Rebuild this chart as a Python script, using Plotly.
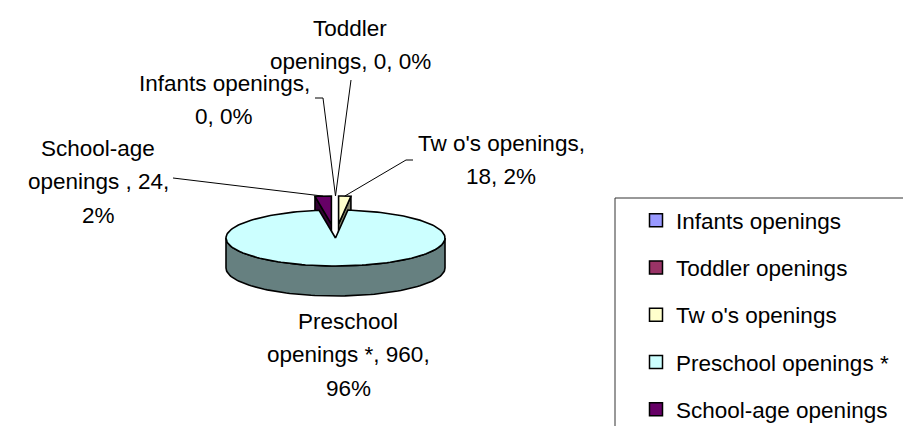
import textwrap
import numpy as np
import plotly.graph_objects as go

# ---------------- data ----------------
categories = ["Infants openings", "Toddler openings", "Tw o's openings",
              "Preschool openings *", "School-age openings "]
values = [0, 0, 18, 960, 24]
top_colors = ["#9999FF", "#993366", "#FFFFCC", "#CCFFFF", "#660066"]
side_colors = ["#4D4D80", "#4D1A33", "#808066", "#668080", "#330033"]
label_wrap = [17, 15, 16, 16, 14]
label_pos = [(216, 75), (342, 20), (493, 135), (340, 313), (90, 140)]
label_tick = [((307, 90), (315, 90)), ((343, 72), None), ((405, 152), (398, 152)),
              None, ((165, 170), None)]

# ---------------- style / geometry ----------------
W, H = 911, 426
CX, CY, RX, RY, DEPTH = 327.5, 230.0, 109.5, 28.0, 30.0
EXPLODE = 0.5
FONT = "Liberation Sans, Arial, sans-serif"
FS = 22.5
LINE_H = 33.5

total = float(sum(values))
pcts = [round(v / total * 100) for v in values]
largest = int(np.argmax(values))


def arc(a0, a1, cx, cy, n=None):
    if n is None:
        n = max(2, int(abs(a1 - a0) / 2) + 2)
    t = np.radians(np.linspace(a0, a1, n))
    return cx + RX * np.sin(t), cy - RY * np.cos(t)


fig = go.Figure()
polys = []
anchors = []
start = 0.0
for i, v in enumerate(values):
    span = v / total * 360.0
    end = start + span
    mid = (start + end) / 2
    e = EXPLODE if (i != largest) else 0.0
    dx = e * RX * np.sin(np.radians(mid))
    dy = -e * RY * np.cos(np.radians(mid))
    ax, ay = CX + dx, CY + dy
    mx, my = arc(mid, mid, ax, ay, 1)
    anchors.append((float(mx[0]), float(my[0])))
    if v > 0:
        order = -np.cos(np.radians(mid))
        faces = []
        # radial side faces turned toward the viewer
        for ang, nrm in ((start, start - 90), (end, end + 90)):
            if np.cos(np.radians(nrm)) < -1e-6:
                px, py = arc(ang, ang, ax, ay, 1)
                xs = [ax, px[0], px[0], ax, ax]
                ys = [ay, py[0], py[0] + DEPTH, ay + DEPTH, ay]
                faces.append((xs, ys, side_colors[i]))
        # outer curved face (front half)
        f0, f1 = max(start, 90.0), min(end, 270.0)
        if f1 > f0:
            tx, ty = arc(f0, f1, ax, ay)
            xs = list(tx) + list(tx[::-1]) + [tx[0]]
            ys = list(ty) + list(ty[::-1] + DEPTH) + [ty[0]]
            faces.append((xs, ys, side_colors[i]))
        # top face
        tx, ty = arc(start, end, ax, ay)
        xs = [ax] + list(tx) + [ax]
        ys = [ay] + list(ty) + [ay]
        faces.append((xs, ys, top_colors[i]))
        polys.append((order, faces))
    start = end

for order, faces in sorted(polys, key=lambda p: p[0]):
    for xs, ys, col in faces:
        fig.add_trace(go.Scatter(x=xs, y=ys, mode="lines", fill="toself",
                                 fillcolor=col, line=dict(color="black", width=1.6),
                                 hoverinfo="skip", showlegend=False))

# leader lines
for i in range(len(values)):
    if label_tick[i] is None:
        continue
    p0, p1 = label_tick[i]
    xs, ys = [p0[0]], [p0[1]]
    if p1 is not None:
        xs.append(p1[0]); ys.append(p1[1])
    xs.append(anchors[i][0]); ys.append(anchors[i][1])
    fig.add_trace(go.Scatter(x=xs, y=ys, mode="lines",
                             line=dict(color="black", width=1),
                             hoverinfo="skip", showlegend=False))

# legend entries
for i, c in enumerate(categories):
    fig.add_trace(go.Scatter(x=[None], y=[None], mode="markers", name=c.strip(),
                             legendgroup=c,
                             marker=dict(symbol="square", size=13, color=top_colors[i],
                                         line=dict(color="black", width=1.5))))

# data labels
annotations = []
for i, c in enumerate(categories):
    text = f"{c}, {values[i]}, {pcts[i]}%"
    lines = textwrap.wrap(text, width=label_wrap[i], break_on_hyphens=False)
    lx, ly = label_pos[i]
    for k, ln in enumerate(lines):
        annotations.append(dict(x=lx, y=ly + k * LINE_H, xref="x", yref="y",
                                text=ln, showarrow=False, xanchor="center",
                                yanchor="middle",
                                font=dict(family=FONT, size=FS, color="black")))

fig.update_layout(
    width=W, height=H,
    margin=dict(l=0, r=0, t=0, b=0),
    paper_bgcolor="white", plot_bgcolor="white",
    xaxis=dict(range=[0, W], visible=False, fixedrange=True),
    yaxis=dict(range=[H, 0], visible=False, fixedrange=True),
    annotations=annotations,
    showlegend=True,
    legend=dict(x=628 / W, y=1 - 191 / H, xanchor="left", yanchor="top",
                traceorder="grouped", tracegroupgap=15,
                font=dict(family=FONT, size=FS, color="black"),
                bgcolor="rgba(0,0,0,0)", borderwidth=0),
    shapes=[dict(type="rect", xref="x", yref="y", x0=607, y0=190, x1=915, y1=430,
                 line=dict(color="#333333", width=1), fillcolor="rgba(0,0,0,0)",
                 layer="below")],
)

fig.write_html("out.html", config={"displayModeBar": False})
